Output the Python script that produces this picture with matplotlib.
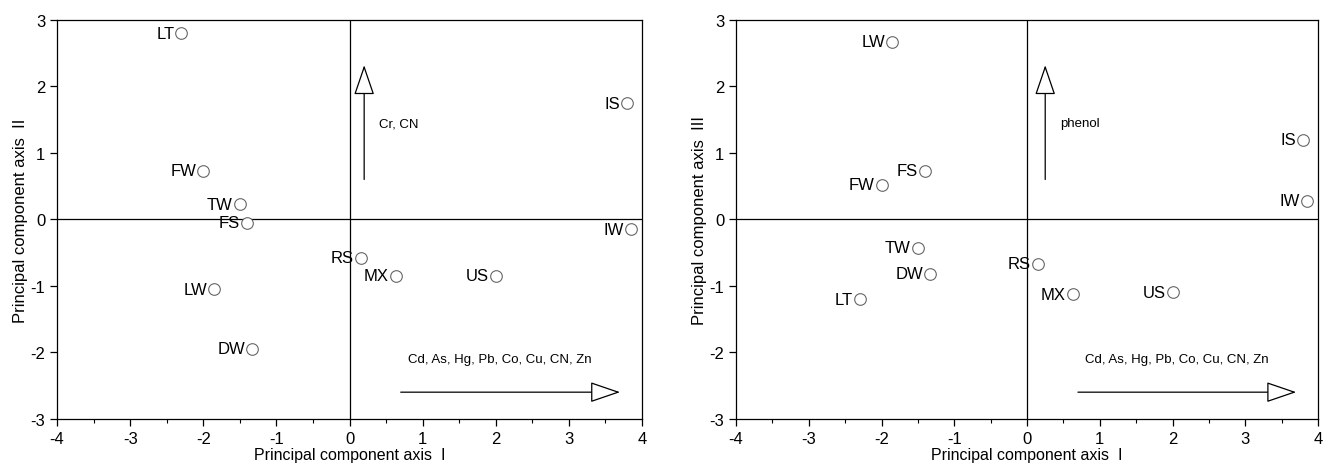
import matplotlib
matplotlib.use("Agg")
import matplotlib.pyplot as plt
from matplotlib.ticker import MultipleLocator

plt.rcParams['font.family'] = ['Liberation Sans', 'DejaVu Sans']
plt.rcParams['axes.unicode_minus'] = False

# sample sites
sites = ['LT', 'FW', 'TW', 'FS', 'LW', 'DW', 'RS', 'MX', 'US', 'IS', 'IW']
pc1 = [-2.3, -2.0, -1.5, -1.4, -1.85, -1.33, 0.15, 0.63, 2.0, 3.8, 3.85]
pc2 = [2.8, 0.73, 0.23, -0.05, -1.05, -1.95, -0.58, -0.85, -0.85, 1.75, -0.15]
pc3 = [-1.2, 0.52, -0.43, 0.73, 2.67, -0.82, -0.67, -1.13, -1.1, 1.2, 0.28]

metals = 'Cd, As, Hg, Pb, Co, Cu, CN, Zn'


def draw_panel(ax, x, y, ylab, vlabel, vx):
    ax.axhline(0, color='black', lw=0.9)
    ax.axvline(0, color='black', lw=0.9)
    ax.scatter(x, y, s=70, facecolors='white', edgecolors='#666666', linewidths=0.8, zorder=3)
    for name, xi, yi in zip(sites, x, y):
        ax.annotate(name, (xi, yi), xytext=(-5, 0), textcoords='offset points',
                    ha='right', va='center', fontsize=12)

    # loading arrows with open heads
    arrow = dict(arrowstyle='-|>,head_length=1.9,head_width=0.65', edgecolor='black',
                 lw=0.9, facecolor='white', shrinkA=0, shrinkB=0)
    ax.annotate('', xy=(vx, 2.32), xytext=(vx, 0.6), arrowprops=arrow)
    ax.annotate('', xy=(3.7, -2.6), xytext=(0.7, -2.6), arrowprops=arrow)
    ax.text(vx + 0.2, 1.45, vlabel, fontsize=9.5, va='center')
    ax.text(0.8, -2.1, metals, fontsize=9.5, va='center')

    ax.set_xlim(-4, 4)
    ax.set_ylim(-3, 3)
    ax.xaxis.set_major_locator(MultipleLocator(1))
    ax.xaxis.set_minor_locator(MultipleLocator(0.5))
    ax.yaxis.set_major_locator(MultipleLocator(1))
    ax.tick_params(direction='out', labelsize=12, length=5, width=0.9)
    ax.tick_params(which='minor', direction='out', length=3, width=0.8)
    ax.set_xlabel('Principal component axis  I', fontsize=11.5, labelpad=1)
    ax.set_ylabel(ylab, fontsize=12, labelpad=2)
    for s in ax.spines.values():
        s.set_linewidth(0.9)


fig = plt.figure(figsize=(13.24, 4.77), dpi=100)
ax1 = fig.add_axes([0.0431, 0.12, 0.4418, 0.836])
ax2 = fig.add_axes([0.5559, 0.12, 0.4396, 0.836])

draw_panel(ax1, pc1, pc2, 'Principal component axis  II', 'Cr, CN', 0.2)
draw_panel(ax2, pc1, pc3, 'Principal component axis  III', 'phenol', 0.25)

fig.savefig('out.png', dpi=100)
